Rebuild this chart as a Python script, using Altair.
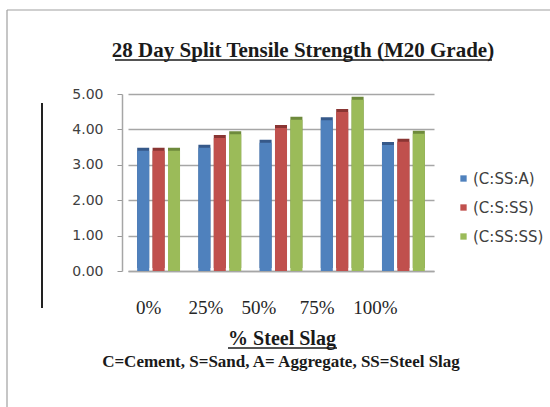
import altair as alt
import pandas as pd

# Split tensile strength (MPa) at 28 days, M20 grade
categories = ["0%", "25%", "50%", "75%", "100%"]
series = ["(C:SS:A)", "(C:S:SS)", "(C:SS:SS)"]
css_a = [3.40, 3.48, 3.62, 4.26, 3.56]
cs_ss = [3.40, 3.76, 4.04, 4.49, 3.65]
css_ss = [3.40, 3.86, 4.27, 4.84, 3.88]
y_ticks = [0, 1, 2, 3, 4, 5]

front_colors = ["#4F81BD", "#C0504D", "#9BBB59"]
side_colors = ["#36598A", "#8A3533", "#6E8A3C"]

title_text = "28 Day Split Tensile Strength (M20 Grade)"
x_title_text = "% Steel Slag"
note_text = "C=Cement, S=Sand, A= Aggregate, SS=Steel Slag"

rows = []
for name, vals in zip(series, [css_a, cs_ss, css_ss]):
    for cat, v in zip(categories, vals):
        rows.append({"slag": cat, "mix": name, "strength": v})
df = pd.DataFrame(rows)

W, H = 306, 177
SERIF = "Liberation Serif"
SANS = "DejaVu Sans"

x_enc = alt.X(
    "slag:N",
    sort=categories,
    scale=alt.Scale(paddingInner=0.3, paddingOuter=0.15),
    axis=alt.Axis(
        title=None,
        labelAngle=0,
        labelFont=SERIF,
        labelFontSize=19,
        labelColor="#262626",
        ticks=False,
        domainColor="#a6a6a6",
        domainWidth=1.5,
        labelPadding=27,
        labelOffset={
            "condition": [
                {"test": "datum.value === '0%'", "value": -10},
                {"test": "datum.value === '25%'", "value": -14},
                {"test": "datum.value === '50%'", "value": -22},
                {"test": "datum.value === '75%'", "value": -25},
            ],
            "value": -28,
        },
    ),
)
y_enc = alt.Y(
    "strength:Q",
    scale=alt.Scale(domain=[0, 5], nice=False),
    axis=alt.Axis(
        title=None,
        values=y_ticks,
        format=".2f",
        labelFont=SANS,
        labelFontSize=14,
        labelColor="#404040",
        tickColor="#999999",
        tickSize=5,
        domainColor="#a6a6a6",
        domainWidth=1.5,
        offset=6,
        labelPadding=14,
        grid=True,
        gridColor="#a6a6a6",
        gridWidth=1.3,
    ),
)
xoff = alt.XOffset("mix:N", sort=series, scale=alt.Scale(paddingInner=0.22))

base = alt.Chart(df)

# darker depth faces behind each column
sides = base.mark_bar(xOffset=3, yOffset=-3).encode(
    x=x_enc,
    y=y_enc,
    xOffset=xoff,
    color=alt.Color("mix:N", sort=series,
                    scale=alt.Scale(domain=series, range=side_colors), legend=None),
)

fronts = base.mark_bar().encode(
    x=x_enc,
    y=y_enc,
    xOffset=xoff,
    color=alt.Color(
        "mix:N",
        sort=series,
        scale=alt.Scale(domain=series, range=front_colors),
        legend=alt.Legend(
            title=None,
            orient="none",
            legendX=328,
            legendY=77,
            padding=0,
            symbolType="square",
            symbolSize=40,
            symbolStrokeWidth=0,
            labelFont=SANS,
            labelFontSize=15,
            labelColor="#404040",
            labelOffset=2,
            rowPadding=13,
        ),
    ),
)

one = pd.DataFrame({"k": [0]})


def text_layer(txt, x, y, size, bold=True, font=SERIF, color="#1a1a1a"):
    return alt.Chart(pd.DataFrame({"t": [txt]})).mark_text(
        font=font, fontSize=size, fontWeight="bold" if bold else "normal",
        color=color, align="center", baseline="alphabetic",
    ).encode(x=alt.value(x), y=alt.value(y), text="t:N")


def hline(x1, x2, y, color="#1a1a1a", width=1.4):
    return alt.Chart(one).mark_rule(color=color, strokeWidth=width).encode(
        x=alt.value(x1), x2=alt.value(x2), y=alt.value(y))


def vline(x, y1, y2, color="#1a1a1a", width=1.4):
    return alt.Chart(one).mark_rule(color=color, strokeWidth=width).encode(
        x=alt.value(x), y=alt.value(y1), y2=alt.value(y2))


chart = alt.layer(
    hline(-121, 422, -84, color="#a0a0a0", width=1.2),
    vline(-121, -84, 313, color="#a0a0a0", width=1.2),
    vline(-86, 9, 214, color="#222222", width=2),
    sides,
    fronts,
    text_layer(title_text, 175, -37, 21),
    hline(-13, 364, -34),
    text_layer(x_title_text, 154, 251, 20),
    hline(100, 209, 254),
    text_layer(note_text, 153, 273, 17),
).resolve_scale(color="independent").properties(
    width=W,
    height=H,
    autosize=alt.AutoSizeParams(type="none"),
    padding={"left": 128, "top": 94, "right": 116, "bottom": 136},
    background="white",
).configure_view(stroke=None)

chart.save("out.html", embed_options={"renderer": "svg", "actions": False})
